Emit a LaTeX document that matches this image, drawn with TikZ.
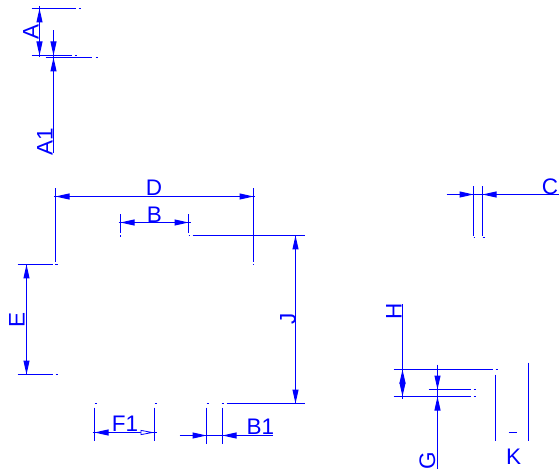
\documentclass[tikz,border=0pt]{standalone}
\usepackage{fontspec}
\setmainfont{Liberation Sans}
\usetikzlibrary{arrows.meta}
\definecolor{dimblue}{RGB}{0,0,255}
\tikzset{
  dimline/.style={draw=dimblue,line width=1pt},
  tipl/.style={draw=dimblue,line width=1pt,-{Triangle[length=14pt,width=6pt,fill=dimblue]}},
  tiph/.style={draw=dimblue,line width=0.8pt,-{Triangle[length=14pt,width=5pt,fill=white]}},
  dotmark/.style={draw=dimblue,line width=1pt},
  lab/.style={text=dimblue,font=\fontsize{22.5}{22.5}\selectfont,inner sep=0pt},
  vlab/.style={lab,rotate=90}
}
\begin{document}
\begin{tikzpicture}[x=1pt,y=-1pt]
\useasboundingbox (0,0) rectangle (560,473);
\begin{scope}[shift={(0.5,0.5)}]
% top-left: A, A1
\coordinate (a1s) at (31,8);   \coordinate (a1e) at (75,8);   \coordinate (a1d) at (78,8);
\coordinate (a2s) at (31,55);  \coordinate (a2e) at (71,55);  \coordinate (a2d) at (74,55);
\coordinate (a3s) at (45,57);  \coordinate (a3e) at (91,57);  \coordinate (a3d) at (95,57);
\coordinate (at) at (39,6);  \coordinate (ab) at (39,57);
\coordinate (atip) at (39,8); \coordinate (abtip) at (39,55);
\coordinate (ct) at (53,30);   \coordinate (cb) at (53,153);
\coordinate (ctip) at (53,55); \coordinate (cbtip) at (53,57);
\draw[dimline] (a1s) -- (a1e); \draw[dotmark] (a1d) -- ++(2,0);
\draw[dimline] (a2s) -- (a2e); \draw[dotmark] (a2d) -- ++(2,0);
\draw[dimline] (a3s) -- (a3e); \draw[dotmark] (a3d) -- ++(2,0);
\draw[dimline] (at) -- (ab);
\draw[tipl] ([yshift=-14pt]atip) -- (atip);
\draw[tipl] ([yshift=14pt]abtip) -- (abtip);
\draw[dimline] (ct) -- (cb);
\draw[tipl] ([yshift=14pt]ctip) -- (ctip);
\draw[tipl] ([yshift=-14pt]cbtip) -- (cbtip);
\node[vlab] (lA) at (30.5,31.5) {A};
\node[vlab] (lA1) at (44.5,141.5) {A1};
% D
\coordinate (dl) at (55,196); \coordinate (dr) at (253,196);
\coordinate (dlt) at (55,188); \coordinate (dlb) at (55,262);
\coordinate (drt) at (253,188); \coordinate (drb) at (253,262);
\draw[dimline] ([xshift=-1.5pt]dl) -- ([xshift=1.5pt]dr);
\draw[dimline] (dlt) -- (dlb); \draw[dimline] (drt) -- (drb);
\draw[dotmark] (55,263.5) -- ++(0,1.5); \draw[dotmark] (253,263.5) -- ++(0,1.5);
\draw[tipl] ([xshift=14pt]dl) -- (dl);
\draw[tipl] ([xshift=-14pt]dr) -- (dr);
\node[lab] (lD) at (153.5,187.5) {D};
% B
\coordinate (bl) at (120,222); \coordinate (br) at (188,222);
\draw[dimline] ([xshift=-2pt]bl) -- ([xshift=2pt]br);
\draw[dimline] (120,214) -- (120,233); \draw[dimline] (188,214) -- (188,233);
\draw[dotmark] (120,235) -- ++(0,1.5); \draw[dotmark] (188,235) -- ++(1.5,0);
\draw[tipl] ([xshift=14pt]bl) -- (bl);
\draw[tipl] ([xshift=-14pt]br) -- (br);
\node[lab] (lB) at (154,214.5) {B};
% J
\coordinate (jt) at (295,235); \coordinate (jb) at (295,403);
\draw[dimline] (192,235) -- (304,235);
\draw[dimline] (226,403) -- (304,403);
\draw[dotmark] (221,403) -- ++(2,0);
\draw[dimline] (jt) -- (jb);
\draw[tipl] ([yshift=-14pt]jt) -- (jt);
\draw[tipl] ([yshift=14pt]jb) -- (jb);
\node[vlab] (lJ) at (287.5,318) {J};
% E
\coordinate (et) at (26,264); \coordinate (eb) at (26,374);
\draw[dimline] (17,264) -- (52,264); \draw[dotmark] (55,264) -- ++(2,0);
\draw[dimline] (17,374) -- (52,374); \draw[dotmark] (55,374) -- ++(2,0);
\draw[dimline] ([yshift=-1pt]et) -- ([yshift=1pt]eb);
\draw[tipl] ([yshift=-14pt]et) -- (et);
\draw[tipl] ([yshift=14pt]eb) -- (eb);
\node[vlab] (lE) at (16.5,319) {E};
% F1
\coordinate (fl) at (94,432); \coordinate (fr) at (154,432);
\draw[dotmark] (94,403) -- ++(2,0); \draw[dotmark] (154,403) -- ++(2,0);
\draw[dimline] (94,407) -- (94,440); \draw[dimline] (154,407) -- (154,440);
\draw[dimline] ([xshift=-2pt]fl) -- ([xshift=2pt]fr);
\draw[tipl] ([xshift=14pt]fl) -- (fl);
\draw[tiph] ([xshift=-14pt]fr) -- (fr);
\node[lab] (lF) at (124.5,423.5) {F1};
% B1
\coordinate (gl) at (206,435); \coordinate (gr) at (222,435);
\draw[dotmark] (206,403) -- ++(2,0);
\draw[dimline] (206,407) -- (206,443); \draw[dimline] (222,407) -- (222,443);
\draw[dimline] (179,435) -- (272,435);
\draw[tipl] ([xshift=-14pt]gl) -- (gl);
\draw[tipl] ([xshift=14pt]gr) -- (gr);
\node[lab] (lB1) at (260,426.5) {B1};
% C
\coordinate (cl) at (473,194); \coordinate (cr) at (482,194);
\draw[dimline] (446,194) -- (558,194);
\draw[dimline] (473,186) -- (473,236); \draw[dimline] (482,186) -- (482,236);
\draw[dotmark] (473,237) -- ++(1.5,0); \draw[dotmark] (482,237) -- ++(2,0);
\draw[tipl] ([xshift=-14pt]cl) -- (cl);
\draw[tipl] ([xshift=14pt]cr) -- (cr);
\node[lab] (lC) at (549.5,186) {C};
% H
\coordinate (ht) at (402,369); \coordinate (hb) at (402,396);
\draw[dimline] (393,369) -- (492,369); \draw[dotmark] (495,369) -- ++(2,0);
\draw[dimline] (393,396) -- (470,396); \draw[dotmark] (473,396) -- ++(2,0);
\draw[dimline] (428,389) -- (470,389); \draw[dotmark] (473,389) -- ++(2,0);
\draw[dimline] (402,304) -- (402,398);
\draw[tipl] ([yshift=-14pt]ht) -- (ht);
\draw[tipl] ([yshift=14pt]hb) -- (hb);
\node[vlab] (lH) at (393.5,311) {H};
% G
\coordinate (gt) at (437,389); \coordinate (gb) at (437,396);
\draw[dimline] (437,364) -- (437,468);
\draw[tipl] ([yshift=14pt]gt) -- (gt);
\draw[tipl] ([yshift=-14pt]gb) -- (gb);
\node[vlab] (lG) at (427,460) {G};
% K
\draw[dimline] (495,374) -- (495,440);
\draw[dimline] (528,362) -- (528,440);
\draw[dimline] (508,432) -- (516,432);
\node[lab] (lK) at (513,456.5) {K};
\end{scope}
\end{tikzpicture}
\end{document}
